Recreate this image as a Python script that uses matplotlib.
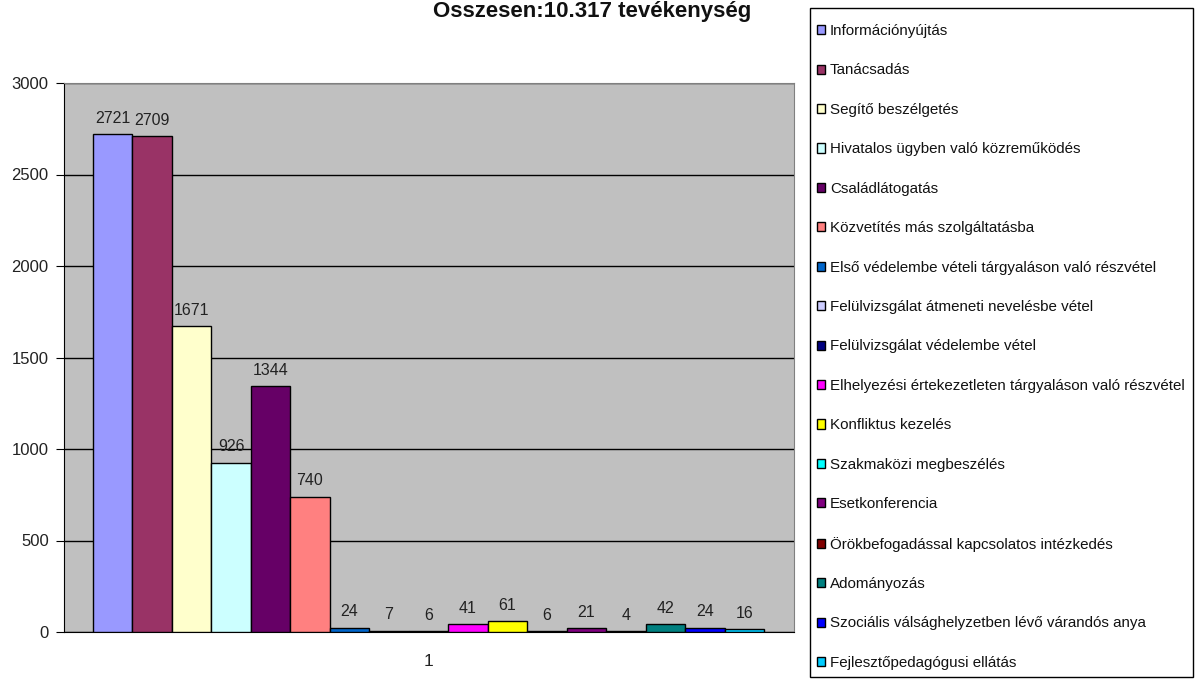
import matplotlib.pyplot as plt
from matplotlib.patches import Patch, Rectangle

plt.rcParams['font.family'] = ['Liberation Sans', 'DejaVu Sans']

# Activity categories (legend order) and their counts
categories = [
    'Információnyújtás',
    'Tanácsadás',
    'Segítő beszélgetés',
    'Hivatalos ügyben való közreműködés',
    'Családlátogatás',
    'Közvetítés más szolgáltatásba',
    'Első védelembe vételi tárgyaláson való részvétel',
    'Felülvizsgálat átmeneti nevelésbe vétel',
    'Felülvizsgálat védelembe vétel',
    'Elhelyezési értekezetleten tárgyaláson való részvétel',
    'Konfliktus kezelés',
    'Szakmaközi megbeszélés',
    'Esetkonferencia',
    'Örökbefogadással kapcsolatos intézkedés',
    'Adományozás',
    'Szociális válsághelyzetben lévő várandós anya',
    'Fejlesztőpedagógusi ellátás',
]
values = [2721, 2709, 1671, 926, 1344, 740, 24, 7, 6, 41, 61, 6, 21, 4, 42, 24, 16]
colors = ['#9999FF', '#993366', '#FFFFCC', '#CCFFFF', '#660066', '#FF8080',
          '#0066CC', '#CCCCFF', '#000080', '#FF00FF', '#FFFF00', '#00FFFF',
          '#800080', '#800000', '#008080', '#0000FF', '#00CCFF']
title = 'Osszesen:10.317 tevékenység'
y_ticks = [0, 500, 1000, 1500, 2000, 2500, 3000]

W, H = 1196, 680
fig = plt.figure(figsize=(W / 100, H / 100), dpi=100)
ax = fig.add_axes([64 / W, 48 / H, 730 / W, 549 / H])
ax.set_facecolor('#C0C0C0')

pos = list(range(len(values)))
ax.bar(pos, values, width=1.0, color=colors, edgecolor='black', linewidth=1, zorder=3)
for x, v in zip(pos, values):
    ax.annotate(str(v), (x, v), xytext=(0, 6), textcoords='offset points',
                ha='center', va='bottom', fontsize=11.5, color='#222222')

ax.set_xlim(-0.5 - 0.73, len(values) - 0.5 + 0.76)
ax.set_ylim(0, 3000)
ax.set_yticks(y_ticks)
ax.set_yticklabels([str(t) for t in y_ticks], fontsize=12, color='#222222')
ax.yaxis.grid(True, color='black', linewidth=1, zorder=1)
ax.set_axisbelow(True)
ax.tick_params(axis='y', length=6, direction='out', pad=5)

ax.set_xticks([(len(values) - 1) / 2])
ax.set_xticklabels(['1'], fontsize=12.5, color='#222222')
ax.tick_params(axis='x', length=0, pad=16)

for side in ['top', 'right']:
    ax.spines[side].set_color('#808080')
ax.spines['left'].set_color('black')
ax.spines['bottom'].set_color('black')

fig.text(592 / W, 1 - 12 / H, title, ha='center', va='center',
         fontsize=16, fontweight='bold', color='#111111')

# legend box drawn separately so its size matches the original
fig.patches.append(Rectangle((810 / W, 3 / H), 383 / W, 669 / H,
                             transform=fig.transFigure, facecolor='white',
                             edgecolor='black', linewidth=1, zorder=0))

handles = [Patch(facecolor=c, edgecolor='black', linewidth=1) for c in colors]
leg = fig.legend(handles, categories, loc='upper left',
                 bbox_to_anchor=(817 / W, 1 - 24 / H),
                 fontsize=10.9, frameon=False,
                 handlelength=0.55, handleheight=0.55,
                 handletextpad=0.3, labelspacing=1.68, borderpad=0,
                 borderaxespad=0)
for t in leg.get_texts():
    t.set_color('#111111')

fig.savefig('out.png', dpi=100, facecolor='white')
